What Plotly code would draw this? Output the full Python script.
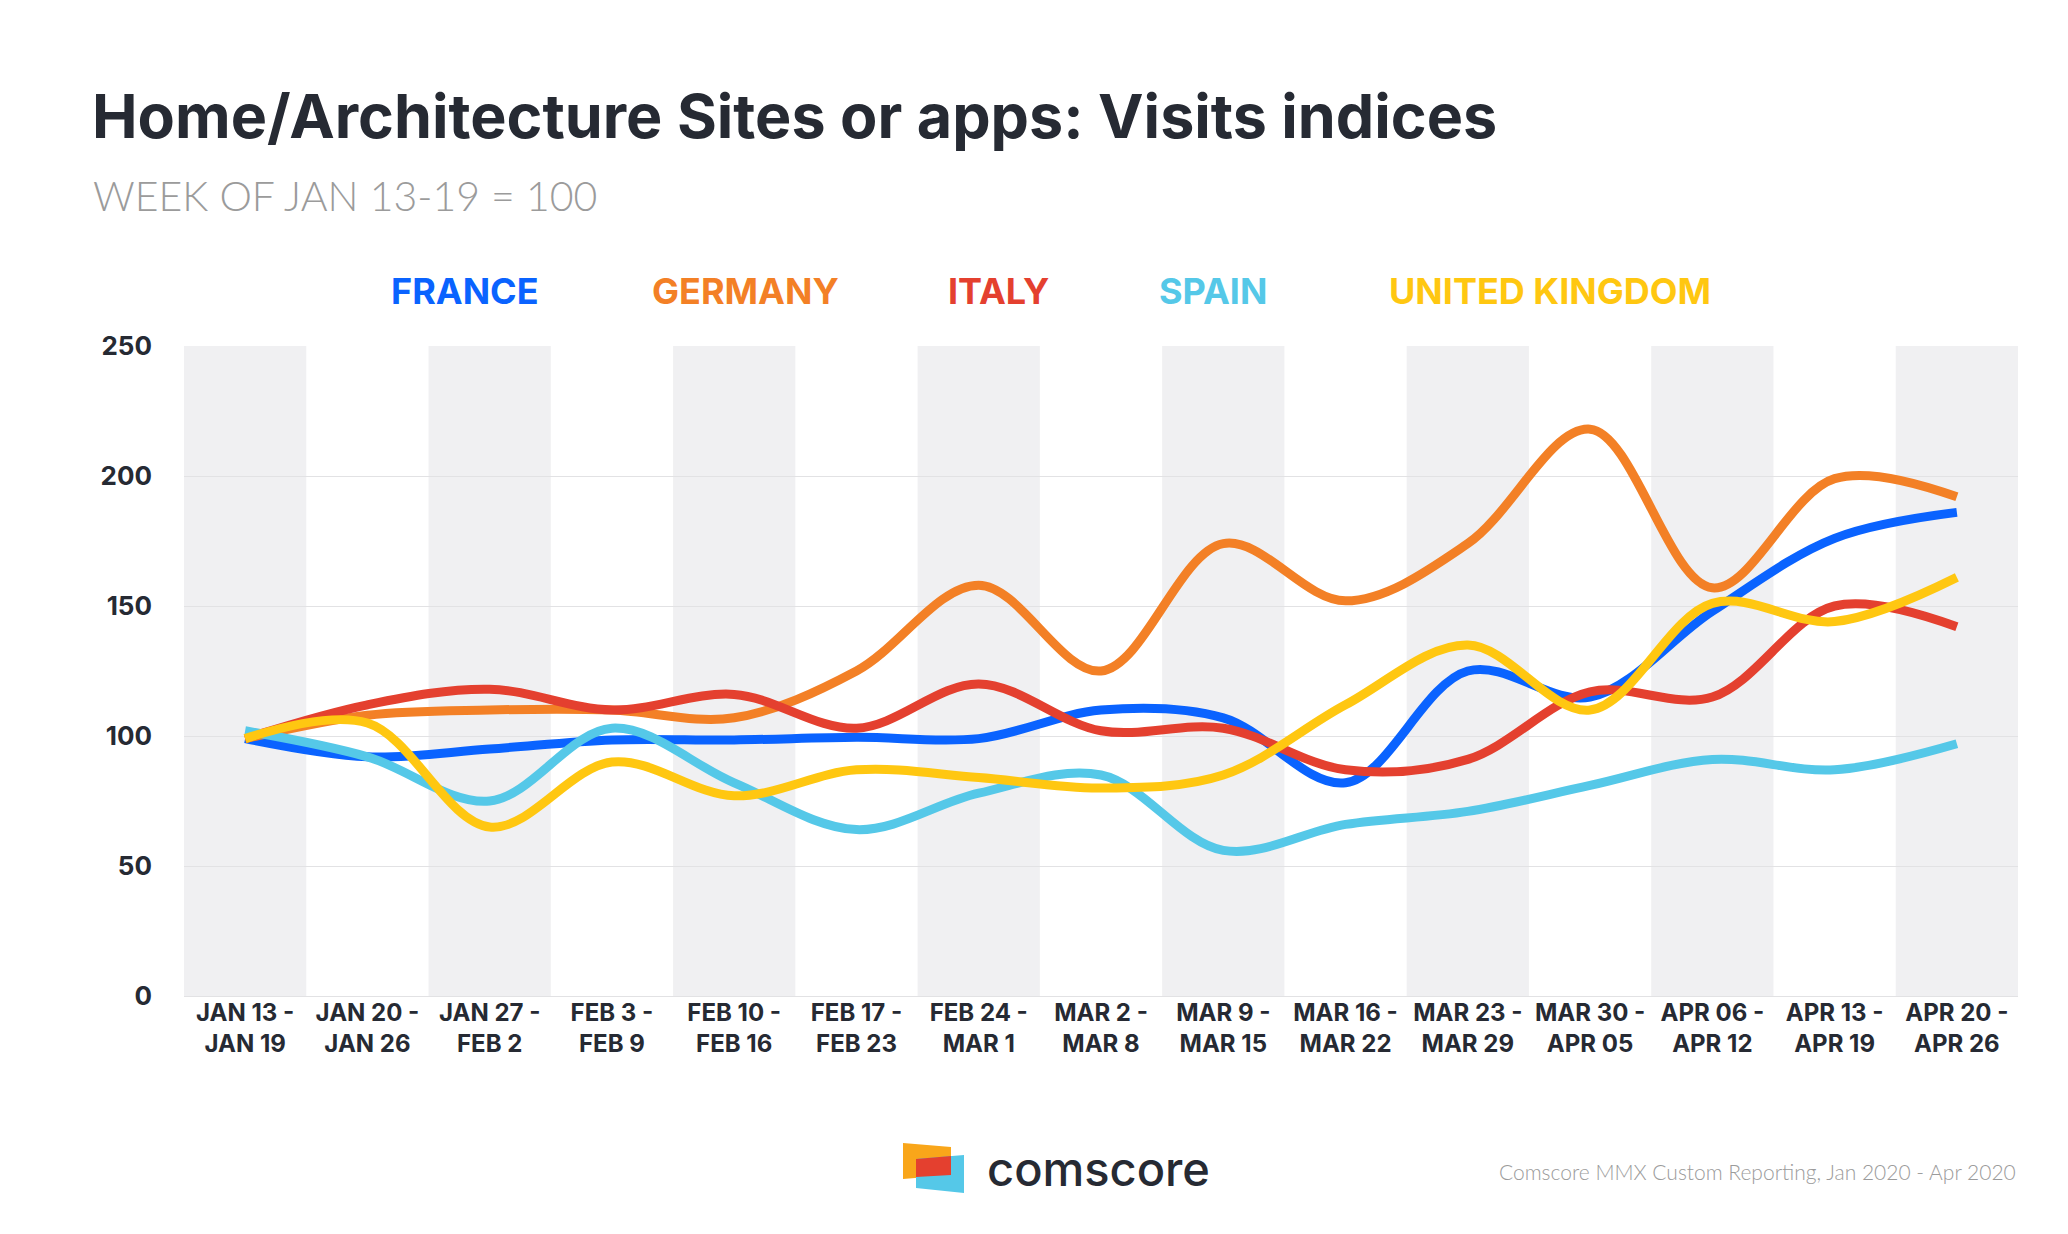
import plotly.graph_objects as go

categories = ["JAN 13 -<br>JAN 19", "JAN 20 -<br>JAN 26", "JAN 27 -<br>FEB 2", "FEB 3 -<br>FEB 9",
              "FEB 10 -<br>FEB 16", "FEB 17 -<br>FEB 23", "FEB 24 -<br>MAR 1", "MAR 2 -<br>MAR 8",
              "MAR 9 -<br>MAR 15", "MAR 16 -<br>MAR 22", "MAR 23 -<br>MAR 29", "MAR 30 -<br>APR 05",
              "APR 06 -<br>APR 12", "APR 13 -<br>APR 19", "APR 20 -<br>APR 26"]

france = [99, 92, 95, 98.5, 98.5, 99.5, 99, 110, 107, 82, 125, 115, 148, 176, 186]
germany = [99, 108, 110, 110, 107, 125, 158, 125, 174, 152, 174, 218, 157, 199, 192]
italy = [99, 112, 118, 110, 116, 103, 120, 102, 103, 87, 91, 117, 115, 150, 142]
spain = [102, 92, 75, 103, 82, 64, 78, 85, 56, 66, 71, 81, 91, 87, 97]
uk = [99, 105, 65, 90, 77, 87, 84, 80, 85, 112, 135, 110, 151, 144, 161]

series_names = ["FRANCE", "GERMANY", "ITALY", "SPAIN", "UNITED KINGDOM"]
series_values = [france, germany, italy, spain, uk]
series_colors = ["#0A63FF", "#F38026", "#E4402F", "#55C8E8", "#FFC711"]

y_ticks = [0, 50, 100, 150, 200, 250]

# page body has an 8px default margin: compensate so the picture lands where intended
OFF = 8
W, H = 2068, 1234
L, R, T, B = 184 - OFF, 50 + OFF, 346 - OFF, 238 + OFF
PW, PH = W - L - R, H - T - B


def px(x):
    return (x - OFF - L) / PW


def py(y):
    return (H - B - (y - OFF)) / PH


fig = go.Figure()

for name, vals, col in zip(series_names, series_values, series_colors):
    fig.add_trace(go.Scatter(
        x=list(range(len(categories))), y=vals, mode="lines", name=name,
        line=dict(color=col, width=9, shape="spline", smoothing=1.0),
        showlegend=False, hoverinfo="skip",
    ))

shapes = []
for i in range(len(categories)):
    if i % 2 == 0:
        shapes.append(dict(type="rect", xref="x", yref="y", x0=i - 0.5, x1=i + 0.5,
                           y0=0, y1=250, fillcolor="#F0F0F2", line=dict(width=0), layer="below"))


def poly(pts):
    return "M " + " L ".join(f"{px(x)},{py(y)}" for x, y in pts) + " Z"


# comscore logo (approximate)
shapes.append(dict(type="path", xref="paper", yref="paper",
                   path=poly([(903, 1143), (951, 1147), (951, 1175), (903, 1179)]),
                   fillcolor="#F9A61A", line=dict(width=0)))
shapes.append(dict(type="path", xref="paper", yref="paper",
                   path=poly([(916, 1159), (964, 1155), (964, 1193), (916, 1188)]),
                   fillcolor="#55C8E8", line=dict(width=0)))
shapes.append(dict(type="path", xref="paper", yref="paper",
                   path=poly([(916, 1159), (951, 1156), (951, 1175), (916, 1177)]),
                   fillcolor="#E4402F", line=dict(width=0)))

annotations = []
annotations.append(dict(text="<b>Home/Architecture Sites or apps: Visits indices</b>", xref="paper", yref="paper",
                        x=px(90), y=py(116), xanchor="left", yanchor="middle", showarrow=False,
                        font=dict(family="Inter", size=61, color="#262A33")))
annotations.append(dict(text="WEEK OF JAN 13-19 = 100", xref="paper", yref="paper",
                        x=px(91), y=py(196), xanchor="left", yanchor="middle", showarrow=False,
                        font=dict(family="Lato", size=41, color="#9B9B9B", weight=300)))
legend_centers = [465, 745, 998, 1213, 1550]
for name, col, cx in zip(series_names, series_colors, legend_centers):
    annotations.append(dict(text=f"<b>{name}</b>", xref="paper", yref="paper",
                            x=px(cx), y=py(291), xanchor="center", yanchor="middle", showarrow=False,
                            font=dict(family="Inter", size=36, color=col)))
annotations.append(dict(text="comscore", xref="paper", yref="paper",
                        x=px(985), y=py(1168), xanchor="left", yanchor="middle", showarrow=False,
                        font=dict(family="Inter", size=47, color="#262A33", weight=500)))
annotations.append(dict(text="Comscore MMX Custom Reporting, Jan 2020 - Apr 2020", xref="paper", yref="paper",
                        x=px(2018), y=py(1171), xanchor="right", yanchor="middle", showarrow=False,
                        font=dict(family="Lato", size=21, color="#9B9B9B", weight=300)))

fig.update_layout(
    width=W, height=H, autosize=False,
    margin=dict(l=L, r=R, t=T, b=B, pad=0, autoexpand=False),
    paper_bgcolor="white", plot_bgcolor="white",
    shapes=shapes, annotations=annotations,
    font=dict(family="Inter", color="#262A33"),
)
fig.update_xaxes(
    range=[-0.5, len(categories) - 0.5], tickmode="array", automargin=False,
    tickvals=list(range(len(categories))), ticktext=[f"<b>{c}</b>" for c in categories],
    showgrid=False, zeroline=False, showline=False, ticks="",
    tickfont=dict(family="Inter", size=24, color="#262A33"),
)
fig.update_yaxes(
    range=[0, 250], tickmode="array", tickvals=y_ticks, automargin=False,
    ticktext=[f"<b>{v}</b>" for v in y_ticks],
    showgrid=True, gridcolor="#E2E2E4", gridwidth=1,
    zeroline=True, zerolinecolor="#E2E2E4", zerolinewidth=1,
    showline=False, ticks="", ticklabelstandoff=31,
    tickfont=dict(family="Inter", size=26, color="#262A33"),
)

fig.write_html("out.html")
